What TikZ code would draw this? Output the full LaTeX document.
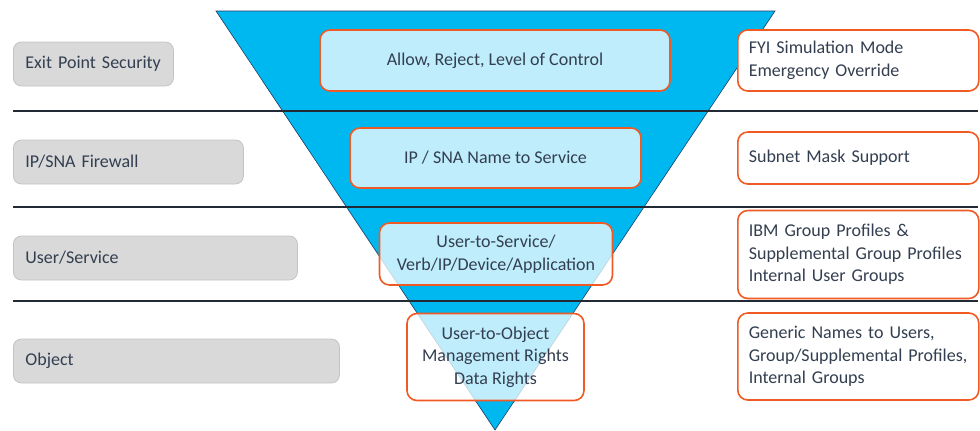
\documentclass[tikz,border=0pt]{standalone}
\usepackage{fontspec}
\setmainfont{Carlito}
\definecolor{tri}{RGB}{0,184,240}
\definecolor{triedge}{RGB}{30,60,100}
\definecolor{txt}{RGB}{51,63,80}
\definecolor{rule}{RGB}{34,42,53}
\definecolor{org}{RGB}{240,90,36}
\definecolor{gfill}{RGB}{217,217,217}
\definecolor{gedge}{RGB}{195,195,195}
\tikzset{
  every node/.style={font=\fontsize{18bp}{22.5bp}\selectfont, text=txt},
  graybox/.style={draw=gedge, line width=0.8bp, fill=gfill, rounded corners=8bp,
    inner xsep=12bp, inner ysep=0pt, align=left, minimum height=44bp, anchor=west},
  midbox/.style={draw=org, line width=1.6bp, fill=white, fill opacity=0.75, text opacity=1,
    rounded corners=10bp, inner sep=0pt, align=center},
  sidebox/.style={draw=org, line width=1.6bp, fill=white, rounded corners=10bp,
    inner xsep=11bp, inner ysep=0pt, align=left, text width=219bp, anchor=west},
  sep/.style={draw=rule, line width=1.6bp}
}
\begin{document}
\begin{tikzpicture}[x=1bp, y=-1bp]
\useasboundingbox (0,0) rectangle (980,430);
% funnel
\coordinate (tl) at (216,11);
\coordinate (tr) at (775,11);
\coordinate (ap) at (495,430);
\draw[fill=tri, draw=triedge, line width=0.6bp] (tl) -- (tr) -- (ap) -- cycle;
% separators
\coordinate (l1a) at (13,111); \coordinate (l1b) at (978,111);
\coordinate (l2a) at (13,207); \coordinate (l2b) at (978,207);
\coordinate (l3a) at (13,301); \coordinate (l3b) at (978,301);
\draw[sep] (l1a) -- (l1b);
\draw[sep] (l2a) -- (l2b);
\draw[sep] (l3a) -- (l3b);
% left labels
\node[graybox, text width=136bp] (g1) at (13,64) {Exit Point Security};
\node[graybox, text width=206bp] (g2) at (13,162) {IP/SNA Firewall};
\node[graybox, text width=260bp] (g3) at (13,258) {User/Service};
\node[graybox, text width=302bp] (g4) at (13,361) {Object};
% middle boxes
\node[midbox, minimum width=350bp, minimum height=61bp] (m1) at (495,60.5) {Allow, Reject, Level of Control};
\node[midbox, minimum width=291bp, minimum height=60bp] (m2) at (495.5,158) {IP / SNA Name to Service};
\node[midbox, minimum width=233bp, minimum height=62bp] (m3) at (496,254) {User-to-Service/\\Verb/IP/Device/Application};
\node[midbox, minimum width=177bp, minimum height=87bp] (m4) at (495.5,357) {User-to-Object\\Management Rights\\Data Rights};
% right boxes
\node[sidebox, minimum height=61bp] (r1) at (737,60.5) {FYI Simulation Mode\\Emergency Override};
\node[sidebox, minimum height=52bp] (r2) at (737,158) {Subnet Mask Support};
\node[sidebox, minimum height=88bp] (r3) at (737,254.5) {IBM Group Profiles \&\\Supplemental Group Profiles\\Internal User Groups};
\node[sidebox, minimum height=87bp] (r4) at (737,356.5) {Generic Names to Users,\\Group/Supplemental Profiles,\\Internal Groups};
\end{tikzpicture}
\end{document}
